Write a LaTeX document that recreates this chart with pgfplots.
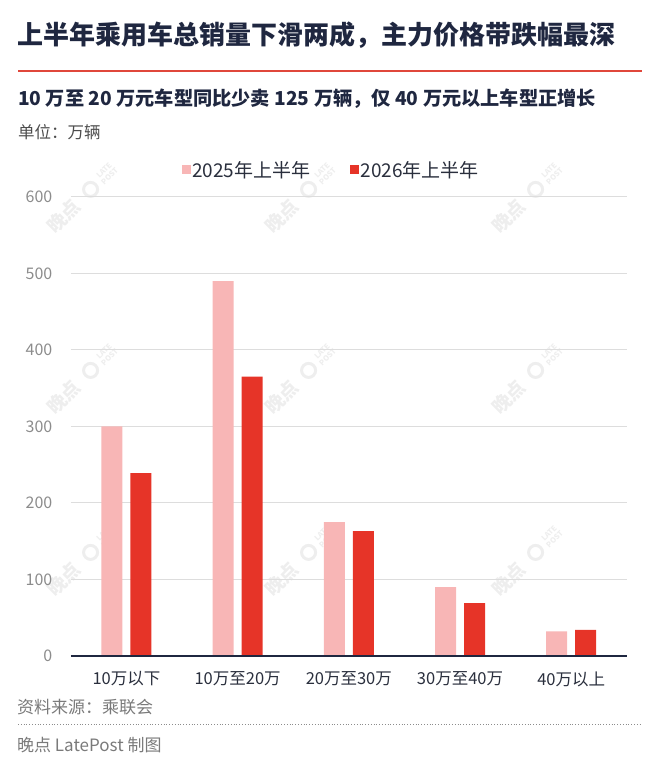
\documentclass[border=0pt]{standalone}
\usepackage{fontspec}
\setmainfont{Noto Sans CJK SC}
\usepackage{pgfplots}
\pgfplotsset{compat=1.18}
\definecolor{c25}{HTML}{F8B6B6}
\definecolor{c26}{HTML}{E63428}
\definecolor{navy}{HTML}{1F2740}
\definecolor{redline}{HTML}{E0473B}
\definecolor{gridc}{HTML}{DDDDDD}
\definecolor{ytxt}{HTML}{8C8C8C}
\definecolor{xtxt}{HTML}{2A2F3D}
\definecolor{srct}{HTML}{7A7A7A}
\definecolor{wm}{HTML}{EEEEEE}
\newcommand{\wmark}[2]{%
  \begin{scope}[shift={(#1,#2)},rotate=45,transform shape]
    \node[text=wm,inner sep=0,font=\fontsize{19}{20}\selectfont\bfseries] at (-40,0) {晚点};
    \draw[wm,line width=3pt] (-2,0) circle (7);
    \node[text=wm,inner sep=0,align=center,font=\fontsize{7.5}{8}\selectfont\bfseries] at (21,0) {LATE\\POST};
  \end{scope}}
\begin{document}
\begin{tikzpicture}[x=1pt,y=1pt]
\useasboundingbox (0,0) rectangle (660,763);
% header
\node[anchor=west,inner sep=0,text=navy,font=\fontsize{26}{30}\selectfont\bfseries] at (17,728) {上半年乘用车总销量下滑两成，主力价格带跌幅最深};
\draw[redline,line width=2pt] (18,692) -- (642,692);
\node[anchor=west,inner sep=0,text=navy,font=\fontsize{19.2}{23}\selectfont\bfseries] at (18,664) {10 万至 20 万元车型同比少卖 125 万辆，仅 40 万元以上车型正增长};
\node[anchor=west,inner sep=0,text=black!70,font=\fontsize{16.5}{20}\selectfont] at (18,631) {单位：万辆};
% watermarks
\wmark{92}{575}\wmark{310}{575}\wmark{537}{575}
\wmark{92}{394}\wmark{310}{394}\wmark{537}{394}
\wmark{92}{212}\wmark{310}{212}\wmark{537}{212}
\begin{axis}[
  at={(63.7,140)}, anchor=south west,
  scale only axis, width=556pt, height=459pt,
  xmin=-0.5, xmax=4.5, ymin=0, ymax=600,
  clip=false,
  axis line style={draw=none},
  major tick length=0pt,
  xtick={0,1,2,3,4},
  xticklabels={10万以下,10万至20万,20万至30万,30万至40万,40万以上},
  ytick={0,100,200,300,400,500,600},
  /pgf/number format/assume math mode=true,
  yticklabel style={text=ytxt,font=\fontsize{16}{18}\selectfont,xshift=-15pt},
  xticklabel style={text=xtxt,font=\fontsize{16.5}{19}\selectfont,yshift=-12pt},
  ymajorgrids, grid style={gridc,line width=1pt},
  legend columns=2,
  legend style={at={(0.468,1.059)},anchor=center,draw=none,fill=none,
    font=\fontsize{19}{22}\selectfont,text=xtxt,
    /tikz/every even column/.append style={column sep=38pt},
    nodes={inner sep=1.5pt}},
  ybar=8pt, bar width=21pt,
]
\addplot[fill=c25,draw=none,legend image code/.code={\fill[c25] (0pt,-4.5pt) rectangle (9pt,4.5pt);}] coordinates {(0,300) (1,490) (2,175) (3,90) (4,32)};
\addplot[fill=c26,draw=none,legend image code/.code={\fill[c26] (0pt,-4.5pt) rectangle (9pt,4.5pt);}] coordinates {(0,239) (1,365) (2,163) (3,69) (4,34)};
\legend{2025年上半年,2026年上半年}
\draw[navy,line width=1.5pt] (axis cs:-0.5,0) -- (axis cs:4.5,0);
\end{axis}
% footer
\node[anchor=west,inner sep=0,text=srct,font=\fontsize{17}{20}\selectfont] at (17,56) {资料来源：乘联会};
\draw[black!45,line width=0.8pt,dotted] (18,39) -- (642,39);
\node[anchor=west,inner sep=0,text=srct,font=\fontsize{17}{20}\selectfont] at (17,18) {晚点 LatePost 制图};
\end{tikzpicture}
\end{document}
